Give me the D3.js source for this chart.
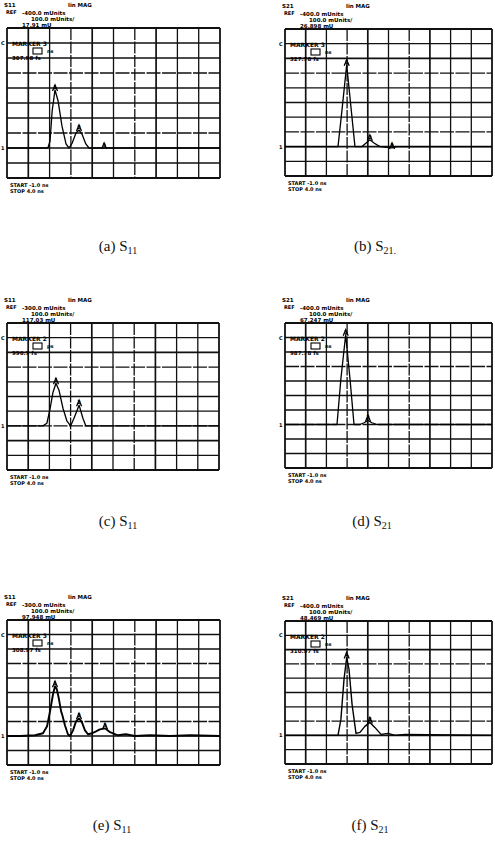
<!DOCTYPE html>
<html><head><meta charset="utf-8">
<script src="https://cdn.jsdelivr.net/npm/d3@7"></script>
<style>body{margin:0;background:#fff}svg{display:block}</style>
</head><body>
<svg id="c" width="495" height="854"></svg>
<script>
// time axis: START -1.0 ns, STOP 4.0 ns ; values in mUnits (100 mUnits/div)
const xDomain = [-1.0, 4.0];
const panelIds = ["a","b","c","d","e","f"];
const captions = ["(a)","(b)","(c)","(d)","(e)","(f)"];
const paramNames = ["S","S","S","S","S","S"];
const paramSubs = ["11","21.","11","21","11","21"];
const yDomains = [[-200,800],[-200,800],[-300,700],[-300,700],[-200,800],[-200,800]];

// traces [time ns, mUnits]
const traceA = [[-1,0],[-0.04,0],[0.01,47],[0.06,247],[0.127,387],[0.2,313],[0.29,147],[0.385,27],[0.455,0],[0.53,33],[0.62,100],[0.69,120],[0.76,93],[0.85,27],[0.925,0],[1.28,0],[4,0]];
const traceB = [[-1,0],[0.28,0],[0.377,250],[0.49,556],[0.6,250],[0.69,0],[0.86,0],[0.96,25],[1.05,46],[1.15,25],[1.29,0],[1.585,-9],[1.7,0],[4,0]];
const traceC = [[-1,0],[-0.15,0],[-0.06,18],[0.01,107],[0.085,229],[0.155,290],[0.226,243],[0.32,120],[0.415,32],[0.5,0],[0.58,52],[0.7,141],[0.79,52],[0.86,0],[4,0]];
const traceD = [[-1,0],[0.256,0],[0.35,315],[0.466,619],[0.57,315],[0.667,0],[0.81,0],[0.91,12],[1.005,28],[1.1,12],[1.22,0],[4,0]];
const traceE = [[-1,0],[-0.69,0],[-0.34,5],[-0.155,19],[-0.06,67],[0.01,170],[0.08,288],[0.127,343],[0.17,322],[0.22,253],[0.27,170],[0.3,143],[0.36,74],[0.43,12],[0.48,0],[0.55,39],[0.62,101],[0.69,122],[0.76,94],[0.83,39],[0.9,12],[1.0,19],[1.09,32],[1.18,46],[1.3,53],[1.42,26],[1.6,5],[1.79,12],[2.0,0],[2.36,5],[2.83,0],[3.3,5],[4,0]];
const traceF = [[-1,0],[0.28,0],[0.35,112],[0.425,392],[0.49,545],[0.546,462],[0.62,217],[0.715,14],[0.81,21],[0.93,63],[1.05,91],[1.17,56],[1.32,7],[1.49,14],[1.66,0],[1.9,7],[4,0]];
const traces = [traceA, traceB, traceC, traceD, traceE, traceF];

// marker times (ns)
const markersA = [0.127, 0.69, 1.28];
const markersB = [0.49, 1.05, 1.585];
const markersC = [0.155, 0.7];
const markersD = [0.466, 1.005];
const markersE = [0.127, 0.69, 1.3];
const markersF = [0.49, 1.05];
const markers = [markersA, markersB, markersC, markersD, markersE, markersF];

// header texts
const headLine1 = ["S11","S21","S11","S21","S11","S21"];
const headRef = ["-400.0 mUnits","-400.0 mUnits","-300.0 mUnits","-400.0 mUnits","-300.0 mUnits","-400.0 mUnits"];
const headScale = ["100.0 mUnits/","100.0 mUnits/","100.0 mUnits/","100.0 mUnits/","100.0 mUnits/","100.0 mUnits/"];
const headMarkVal = ["17.91 mU","26.898 mU","117.03 mU","67.247 mU","97.948 mU","48.469 mU"];
const markerName = ["MARKER 3","MARKER 3","MARKER 2","MARKER 2","MARKER 3","MARKER 2"];
const markerTime = ["ns","ns","ps","ns","ns","ns"];
const markerRead = ["307.98 fs","327.78 fs","996.7 fs","987.78 fs","308.97 fs","310.97 fs"];

// layout
const boxes = [
  {x:7,y:28,w:213,h:150},{x:285,y:29,w:207,h:147},
  {x:7,y:323,w:212,h:147},{x:285,y:323,w:207,h:145},
  {x:7,y:620,w:213,h:145},{x:285,y:621,w:207,h:143}
];
const capPos = [{x:118,y:251},{x:375,y:251},{x:118,y:526},{x:372,y:526},{x:112,y:830},{x:370,y:830}];
const traceWidth = [1.3,1.3,1.3,1.3,1.9,1.4];

const svg = d3.select("#c");
const line = (xs, ys) => d3.line().x(d=>xs(d[0])).y(d=>ys(d[1]));

boxes.forEach((b,i)=>{
  const g = svg.append("g");
  const xs = d3.scaleLinear().domain(xDomain).range([b.x, b.x+b.w]);
  const ys = d3.scaleLinear().domain(yDomains[i]).range([b.y+b.h, b.y]);
  // grid
  const xt = d3.range(11).map(k=>xDomain[0]+k*0.5);
  const yt = d3.range(11).map(k=>yDomains[i][0]+k*100);
  g.selectAll(".vx").data(xt).join("line")
    .attr("x1",d=>xs(d)).attr("x2",d=>xs(d)).attr("y1",b.y).attr("y2",b.y+b.h)
    .attr("stroke","#111").attr("stroke-width",(d,k)=>(k===0||k===10)?1.8:(k%3===1?1.7:1.3))
    .attr("stroke-dasharray",(d,k)=>(k===3||k===6)?"12,1.5":null);
  g.selectAll(".hy").data(yt).join("line")
    .attr("y1",d=>ys(d)).attr("y2",d=>ys(d)).attr("x1",b.x).attr("x2",b.x+b.w)
    .attr("stroke","#111").attr("stroke-width",(d,k)=>(k===0||k===10)?1.8:(k%3===2?1.7:1.3))
    .attr("stroke-dasharray",(d,k)=>(k===3||k===7)?"14,1.5":null);
  // trace
  g.append("path").datum(traces[i]).attr("d",line(xs,ys))
    .attr("fill","none").attr("stroke","#000").attr("stroke-width",traceWidth[i]).attr("stroke-linejoin","round");
  // markers
  markers[i].forEach((t,k)=>{
    const pt = traces[i].reduce((a,c)=>Math.abs(c[0]-t)<Math.abs(a[0]-t)?c:a);
    const px = xs(pt[0]), py = ys(pt[1]);
    g.append("path").attr("d",`M${px-2.5},${py+1}L${px},${py-5}L${px+2.5},${py+1}`)
      .attr("fill","none").attr("stroke","#000").attr("stroke-width",1.3);
    g.append("text").attr("x",px).attr("y",py-1).attr("text-anchor","middle")
      .attr("font-family","DejaVu Sans").attr("font-size",5).attr("font-weight","bold").text(k+1);
  });
  // left labels
  g.append("text").attr("x",b.x-6).attr("y",ys(yDomains[i][0]+900)+2).attr("font-family","DejaVu Sans")
    .attr("font-size",5).attr("font-weight","bold").text("C");
  g.append("text").attr("x",b.x-6).attr("y",ys(0)+2).attr("font-family","DejaVu Sans")
    .attr("font-size",5).attr("font-weight","bold").text("1");
  // header
  const hf = (x,y,t,s)=>g.append("text").attr("x",x).attr("y",y).attr("font-family","DejaVu Sans")
    .attr("font-size",s||5).attr("font-weight","bold").attr("fill","#000").text(t);
  hf(b.x-3,b.y-21,headLine1[i],5.5);
  hf(b.x-1,b.y-14,"REF",5);
  hf(b.x+61,b.y-21,"lin MAG",5.5);
  hf(b.x+15,b.y-13,headRef[i],5.5);
  hf(b.x+24,b.y-7,headScale[i],5.5);
  hf(b.x+15,b.y-1.5,headMarkVal[i],5.5);
  // marker readout
  hf(b.x+5,b.y+18,markerName[i],6);
  g.append("rect").attr("x",b.x+26).attr("y",b.y+20).attr("width",9).attr("height",6)
    .attr("fill","none").attr("stroke","#000").attr("stroke-width",1.1);
  hf(b.x+40,b.y+25,markerTime[i],5);
  hf(b.x+5,b.y+32,markerRead[i],5.5);
  // start / stop
  hf(b.x+3,b.y+b.h+9,"START  -1.0 ns",5);
  hf(b.x+3,b.y+b.h+15,"STOP    4.0 ns",5);
  // caption
  const cap = svg.append("text").attr("x",capPos[i].x).attr("y",capPos[i].y).attr("text-anchor","middle")
    .attr("font-family","Liberation Serif").attr("font-size",15).attr("fill","#111");
  cap.append("tspan").text(captions[i]+"  "+paramNames[i]);
  cap.append("tspan").attr("font-size",10).attr("dy",3).text(paramSubs[i]);
});
</script>
</body></html>
